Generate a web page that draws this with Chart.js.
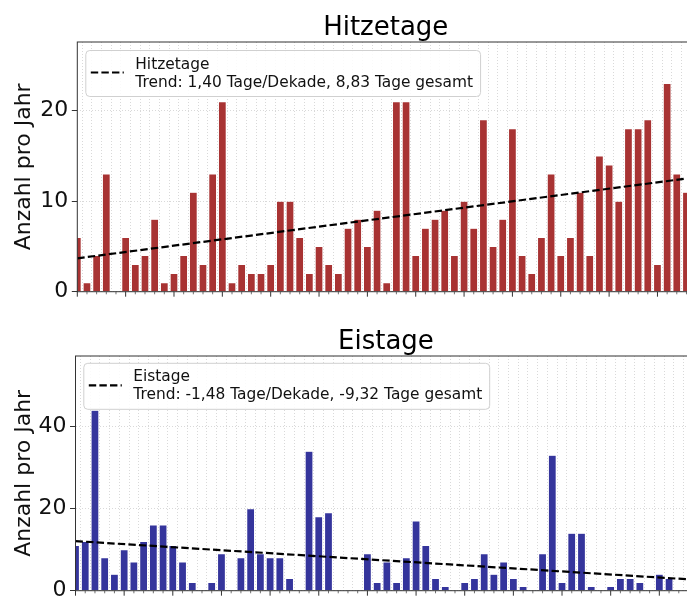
<!DOCTYPE html>
<html><head><meta charset="utf-8">
<script src="https://cdn.jsdelivr.net/npm/chart.js@4"></script>
<style>
html,body{margin:0;padding:0;overflow:hidden;background:#fff;width:687px;height:598px;position:relative}
canvas{position:absolute;left:0}
#c1{top:0}
#c2{top:314px}
</style></head><body>
<canvas id="c1" width="720" height="310"></canvas>
<canvas id="c2" width="720" height="300"></canvas>
<script>
// ---- data ----
const years = [1960,1961,1962,1963,1964,1965,1966,1967,1968,1969,1970,1971,1972,1973,1974,1975,1976,1977,1978,1979,1980,1981,1982,1983,1984,1985,1986,1987,1988,1989,1990,1991,1992,1993,1994,1995,1996,1997,1998,1999,2000,2001,2002,2003,2004,2005,2006,2007,2008,2009,2010,2011,2012,2013,2014,2015,2016,2017,2018,2019,2020,2021,2022,2023];
const hitzetage = [6,1,4,13,0,6,3,4,8,1,2,4,11,3,13,21,1,3,2,2,3,10,10,6,2,5,3,2,7,8,5,9,1,21,21,4,7,8,9,4,10,7,19,5,8,18,4,2,6,13,4,6,11,4,15,14,10,18,18,19,3,23,13,11];
const eistage = [11,12,44,8,4,10,7,12,16,16,11,7,2,0,2,9,0,8,20,9,8,8,3,0,34,18,19,0,0,0,9,2,7,2,8,17,11,3,1,0,2,3,9,4,7,3,1,0,9,33,2,14,14,1,0,1,3,3,2,0,4,3,0,0];
const hitzeTrend = [3.69, 12.51];   // trend value at first and last year
const eisTrend = [12.09, 2.77];
const hitzeYTicks = [0, 10, 20];
const eisYTicks = [0, 20, 40];
const hitzeTitle = 'Hitzetage';
const eisTitle = 'Eistage';
const hitzeLegend = ['Hitzetage', 'Trend: 1,40 Tage/Dekade, 8,83 Tage gesamt'];
const eisLegend = ['Eistage', 'Trend: -1,48 Tage/Dekade, -9,32 Tage gesamt'];
const yLabel = 'Anzahl pro Jahr';

const FONT = '"DejaVu Sans", "Liberation Sans", sans-serif';

const deco = {
  id: 'deco',
  afterDatasetsDraw(chart, args, o) {
    const ctx = chart.ctx, a = chart.chartArea, xs = chart.scales.x;
    ctx.save();
    // frame
    ctx.strokeStyle = '#333'; ctx.lineWidth = 1;
    ctx.strokeRect(a.left, a.top, a.right - a.left, a.bottom - a.top);
    // x tick marks
    years.forEach(y => {
      const px = xs.getPixelForValue(y);
      if (px < a.left - 0.5 || px > a.right + 0.5) return;
      const major = y % 5 === 0;
      ctx.beginPath();
      ctx.lineWidth = major ? 1 : 0.7;
      ctx.moveTo(px, a.bottom);
      ctx.lineTo(px, a.bottom + (major ? 5 : 2.6));
      ctx.stroke();
    });
    // title
    ctx.fillStyle = '#000';
    ctx.font = '26px ' + FONT;
    ctx.textAlign = 'center'; ctx.textBaseline = 'alphabetic';
    ctx.fillText(o.title, (a.left + a.right) / 2, a.top - 7.5);
    // legend
    ctx.font = '15.4px ' + FONT;
    const tw = Math.max(ctx.measureText(o.legend[0]).width, ctx.measureText(o.legend[1]).width);
    const lx = a.left + o.lgDx, ly = a.top + o.lgDy;
    const lw = 50 + tw + 7, lh = 46;
    ctx.beginPath();
    if (ctx.roundRect) ctx.roundRect(lx + 0.5, ly + 0.5, lw, lh, 4); else ctx.rect(lx + 0.5, ly + 0.5, lw, lh);
    ctx.fillStyle = 'rgba(255,255,255,0.85)'; ctx.fill();
    ctx.strokeStyle = '#d0d0d0'; ctx.lineWidth = 1; ctx.stroke();
    ctx.beginPath();
    ctx.setLineDash([7.4, 3.2]);
    ctx.strokeStyle = '#000'; ctx.lineWidth = 2.2;
    ctx.moveTo(lx + 5.5, ly + 22.5); ctx.lineTo(lx + 38.5, ly + 22.5);
    ctx.stroke();
    ctx.setLineDash([]);
    ctx.fillStyle = '#111'; ctx.textAlign = 'left';
    ctx.fillText(o.legend[0], lx + 50, ly + 18.5);
    ctx.fillText(o.legend[1], lx + 50, ly + 36.5);
    ctx.restore();
  }
};

function makeChart(id, cfg) {
  const span = 63.8;
  return new Chart(document.getElementById(id), {
    type: 'bar',
    data: {
      datasets: [
        {
          type: 'line',
          data: [{x: years[0], y: cfg.trend[0]}, {x: years[years.length - 1], y: cfg.trend[1]}],
          borderColor: '#000', borderWidth: 2.2, borderDash: [7.4, 3.2],
          pointRadius: 0, fill: false, order: 0, tension: 0
        },
        {
          type: 'bar',
          data: years.map((y, i) => ({x: y, y: cfg.values[i]})),
          backgroundColor: cfg.color,
          borderColor: 'rgba(255,255,255,0.3)', borderWidth: 0.5,
          barPercentage: 0.8, categoryPercentage: 1, order: 1, grouped: false
        }
      ]
    },
    options: {
      responsive: false, animation: false, devicePixelRatio: 1,
      layout: {padding: {top: cfg.top, left: 0, right: cfg.padRight, bottom: 0}},
      plugins: {legend: {display: false}, tooltip: {enabled: false}, title: {display: false},
        deco: {title: cfg.title, legend: cfg.legend, lgDx: cfg.lgDx, lgDy: cfg.lgDy}},
      scales: {
        x: {
          type: 'linear', min: years[0], max: years[0] + span, offset: false,
          ticks: {display: false, stepSize: 1},
          grid: {color: '#cfcfcf', lineWidth: 0.8, drawTicks: false},
          border: {display: false, dash: [1, 2]},
          afterBuildTicks: s => { s.ticks = years.map(v => ({value: v})); },
          afterFit: s => { s.height = cfg.xH; }
        },
        y: {
          min: 0, max: cfg.yMax,
          ticks: {font: {family: FONT, size: 22}, color: '#111', padding: 3.5},
          grid: {color: '#cfcfcf', lineWidth: 0.8, tickLength: 5.5, tickColor: '#333', tickWidth: 1},
          border: {display: false, dash: [1, 2]},
          title: {display: true, text: yLabel, color: '#111', font: {family: FONT, size: 22}, padding: {top: 11, bottom: 0}},
          afterBuildTicks: s => { s.ticks = cfg.yTicks.map(v => ({value: v})); },
          afterFit: s => { s.width = cfg.left; }
        }
      }
    },
    plugins: [deco]
  });
}

makeChart('c1', {values: hitzetage, trend: hitzeTrend, color: '#a83333', yMax: 27.6, yTicks: hitzeYTicks,
  title: hitzeTitle, legend: hitzeLegend, top: 42, left: 77.3, padRight: 25.8, xH: 18.3, lgDx: 8, lgDy: 8});
makeChart('c2', {values: eistage, trend: eisTrend, color: '#35359c', yMax: 57.2, yTicks: eisYTicks,
  title: eisTitle, legend: eisLegend, top: 42, left: 75.5, padRight: 23.7, xH: 23.3, lgDx: 7.8, lgDy: 6.8});
</script>
</body></html>
